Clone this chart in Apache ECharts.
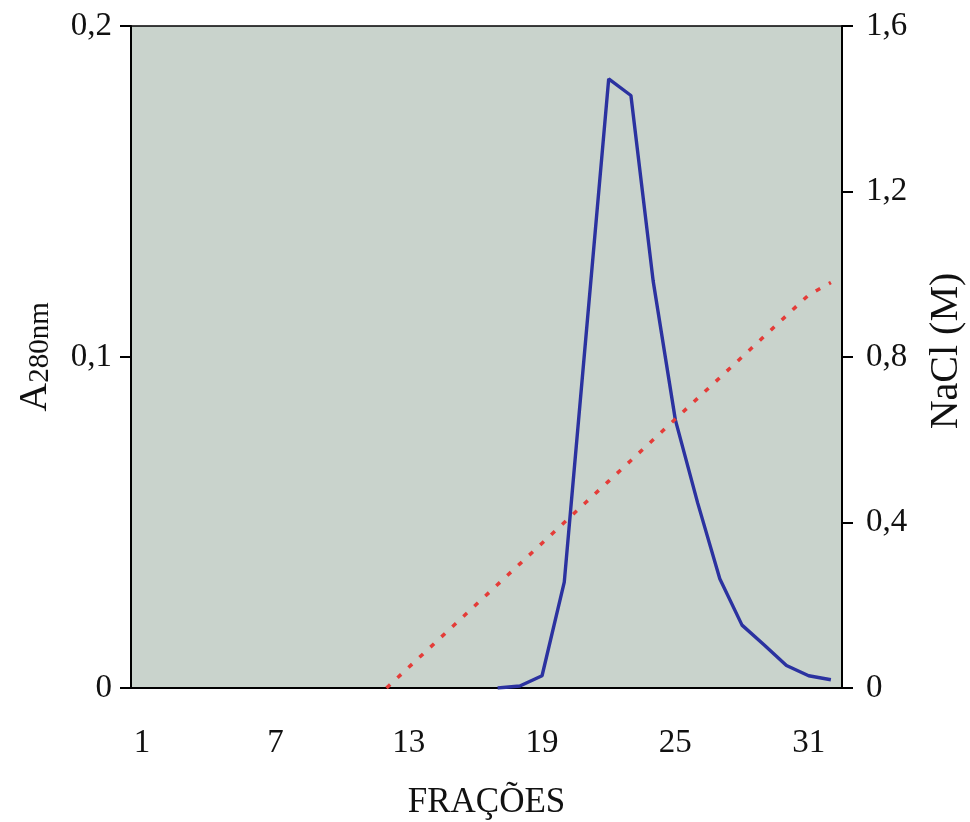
<!DOCTYPE html>
<html>
<head>
<meta charset="utf-8">
<script src="https://cdn.jsdelivr.net/npm/echarts@6/dist/echarts.min.js"></script>
<style>html,body{margin:0;padding:0;background:#fff;}#c{width:970px;height:822px;}</style>
</head>
<body>
<div id="c"></div>
<script>
var fractions = ['1','2','3','4','5','6','7','8','9','10','11','12','13','14','15','16','17','18','19','20','21','22','23','24','25','26','27','28','29','30','31','32'];
var a280 = ['-','-','-','-','-','-','-','-','-','-','-','-','-','-','-','-',0,0.0006,0.0037,0.032,0.108,0.184,0.179,0.123,0.081,0.056,0.033,0.019,0.013,0.0068,0.0037,0.0025];
var nacl = ['-','-','-','-','-','-','-','-','-','-','-',0,0.05,0.10,0.15,0.20,0.25,0.30,0.35,0.40,0.45,0.50,0.55,0.60,0.65,0.70,0.75,0.80,0.85,0.90,0.95,0.98];
var leftTicks = {min:0, max:0.2, interval:0.1};
var rightTicks = {min:0, max:1.6, interval:0.4};

var font = 'Liberation Serif, Times New Roman, serif';
var chart = echarts.init(document.getElementById('c'));
function comma(v){ return String(Math.round(v*10)/10).replace('.', ','); }
chart.setOption({
  backgroundColor:'#fff',
  animation:false,
  grid:{left:131, right:128, top:26, bottom:134, outerBoundsMode:'none', containLabel:false,
        show:true, backgroundColor:'#c9d3cc', borderColor:'#000', borderWidth:1.5},
  xAxis:{
    type:'category', data:fractions, boundaryGap:true,
    name:'FRAÇÕES', nameLocation:'middle', nameGap:97,
    nameTextStyle:{fontFamily:font, fontSize:35, color:'#111'},
    axisLine:{lineStyle:{color:'#000', width:2}},
    axisTick:{interval:5, length:10, lineStyle:{color:'#000', width:2}},
    axisLabel:{interval:5, margin:39, fontFamily:font, fontSize:33, color:'#111'}
  },
  yAxis:[{
    type:'value', min:leftTicks.min, max:leftTicks.max, interval:leftTicks.interval,
    name:'{a|A}{sub|280nm}', nameLocation:'middle', nameGap:76,
    nameTextStyle:{fontFamily:font, fontSize:40, color:'#111',
      rich:{
        a:{fontFamily:font, fontSize:40, lineHeight:40, color:'#111', verticalAlign:'top'},
        sub:{fontFamily:font, fontSize:29, lineHeight:30, color:'#111', verticalAlign:'bottom', padding:[18,0,0,0]}
      }},
    axisLine:{show:true, lineStyle:{color:'#000', width:2}},
    axisTick:{show:true, length:11, lineStyle:{color:'#000', width:2}},
    splitLine:{show:false},
    axisLabel:{margin:19, fontFamily:font, fontSize:33, color:'#111', formatter:function(v){return v===0?'0':comma(v);}}
  },{
    type:'value', position:'right', min:rightTicks.min, max:rightTicks.max, interval:rightTicks.interval,
    name:'NaCl (M)', nameLocation:'middle', nameGap:84, nameRotate:90,
    nameTextStyle:{fontFamily:font, fontSize:40, color:'#111', padding:[0,0,0,12]},
    axisLine:{show:true, lineStyle:{color:'#000', width:2}},
    axisTick:{show:true, length:11, lineStyle:{color:'#000', width:2}},
    splitLine:{show:false},
    axisLabel:{margin:24, fontFamily:font, fontSize:33, color:'#111', formatter:function(v){return v===0?'0':comma(v);}}
  }],
  series:[{
    type:'line', yAxisIndex:0, data:a280, symbol:'none', z:3,
    lineStyle:{color:'#2b32a0', width:3.4}
  },{
    type:'line', yAxisIndex:1, data:nacl, symbol:'none', z:4,
    lineStyle:{color:'#e43c38', width:3.5, type:[5,10]}
  }]
});
</script>
</body>
</html>
